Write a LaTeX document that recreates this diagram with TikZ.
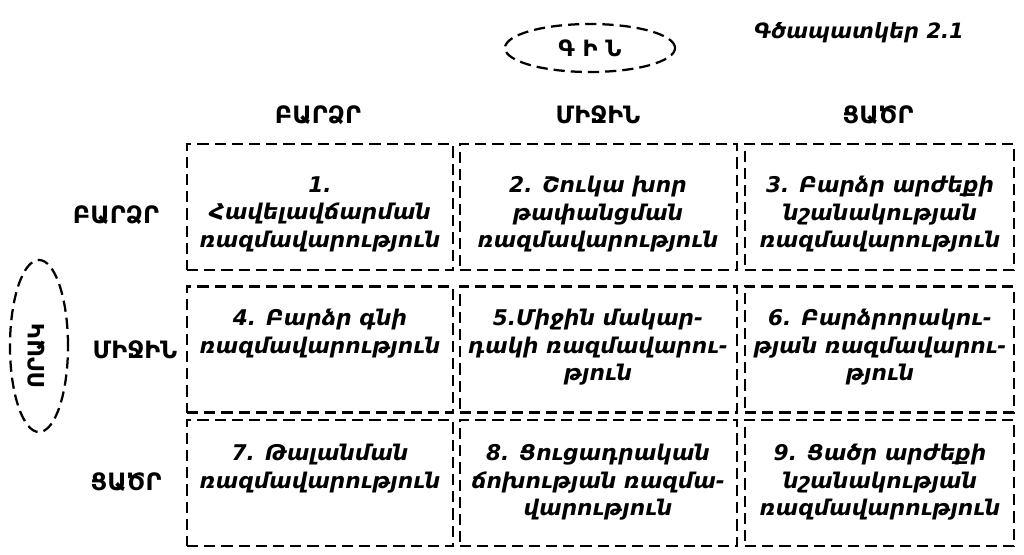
\documentclass[tikz,border=0pt]{standalone}
\usepackage{fontspec}
\setmainfont{DejaVu Sans}[BoldFont={DejaVu Sans Bold}, ItalicFont={DejaVu Sans Oblique}, BoldItalicFont={DejaVu Sans Bold Oblique}]
\usetikzlibrary{shapes.geometric}
\usetikzlibrary{positioning}
\tikzset{
    cellbox/.style = {rectangle, draw=black, line width=1.6pt, dash pattern=on 0.28cm off 0.15cm, minimum height=3.15cm, inner sep=0pt},
    celltext/.style = {anchor=north, align=center, inner sep=0pt, font=\fontsize{15.4}{19.6}\selectfont\bfseries\itshape},
    headtext/.style = {font=\fontsize{17}{20}\selectfont\bfseries},
    ovalnode/.style = {ellipse, draw=black, line width=1.6pt, dash pattern=on 0.28cm off 0.15cm, inner sep=0pt, font=\fontsize{16}{18}\selectfont\bfseries},
    titletext/.style = {font=\fontsize{15}{18}\selectfont\bfseries\itshape}
}

\begin{document}
\begin{tikzpicture}[x=0.025cm, y=-0.025cm]
  \useasboundingbox (0,0) rectangle (1024,554);

  % title and axis ovals
  \node[titletext] (title) at (859,33) {Գծապատկեր 2.1};
  \node[ovalnode, minimum width=4.25cm, minimum height=1.2cm] (price) at (590,48) {Գ Ի Ն};
  \node[ovalnode, minimum width=1.45cm, minimum height=4.3cm] (quality) at (39,346) {};
  \node[ovalnode, draw=none, rotate=90] (qualitytext) at (37,356) {ՈՐԱԿ};

  % column heads
  \node[headtext] (colhigh) at (318,115) {ԲԱՐՁՐ};
  \node[headtext] (colmid) at (598,115) {ՄԻՋԻՆ};
  \node[headtext] (collow) at (878,115) {ՑԱԾՐ};

  % row heads
  \node[headtext] (rowhigh) at (116,215) {ԲԱՐՁՐ};
  \node[headtext] (rowmid) at (135,350) {ՄԻՋԻՆ};
  \node[headtext] (rowlow) at (126,482) {ՑԱԾՐ};

  % boxes
  \node[cellbox, minimum width=6.65cm] (c11) at (320,207) {};
  \node[cellbox, minimum width=6.925cm] (c12) at (598.5,207) {};
  \node[cellbox, minimum width=6.725cm] (c13) at (879.5,207) {};
  \node[cellbox, minimum width=6.65cm] (c21) at (320,349.5) {};
  \node[cellbox, minimum width=6.925cm] (c22) at (598.5,349.5) {};
  \node[cellbox, minimum width=6.725cm] (c23) at (879.5,349.5) {};
  \node[cellbox, minimum width=6.65cm] (c31) at (320,483) {};
  \node[cellbox, minimum width=6.925cm] (c32) at (598.5,483) {};
  \node[cellbox, minimum width=6.725cm] (c33) at (879.5,483) {};

  % texts
  \node[celltext] (t1) at (320,176) {1.\\Հավելավճարման\\ռազմավարություն};
  \node[celltext] (t2) at (598,176) {2. Շուկա խոր\\թափանցման\\ռազմավարություն};
  \node[celltext] (t3) at (880,176) {3. Բարձր արժեքի\\նշանակության\\ռազմավարություն};
  \node[celltext] (t4) at (320,309) {4. Բարձր գնի\\ռազմավարություն};
  \node[celltext] (t5) at (598,309) {5.Միջին մակար-\\դակի ռազմավարու-\\թյուն};
  \node[celltext] (t6) at (880,309) {6. Բարձրորակու-\\թյան ռազմավարու-\\թյուն};
  \node[celltext] (t7) at (320,444) {7. Թալանման\\ռազմավարություն};
  \node[celltext] (t8) at (598,444) {8. Ցուցադրական\\ճոխության ռազմա-\\վարություն};
  \node[celltext] (t9) at (880,444) {9. Ցածր արժեքի\\նշանակության\\ռազմավարություն};
\end{tikzpicture}
\end{document}
